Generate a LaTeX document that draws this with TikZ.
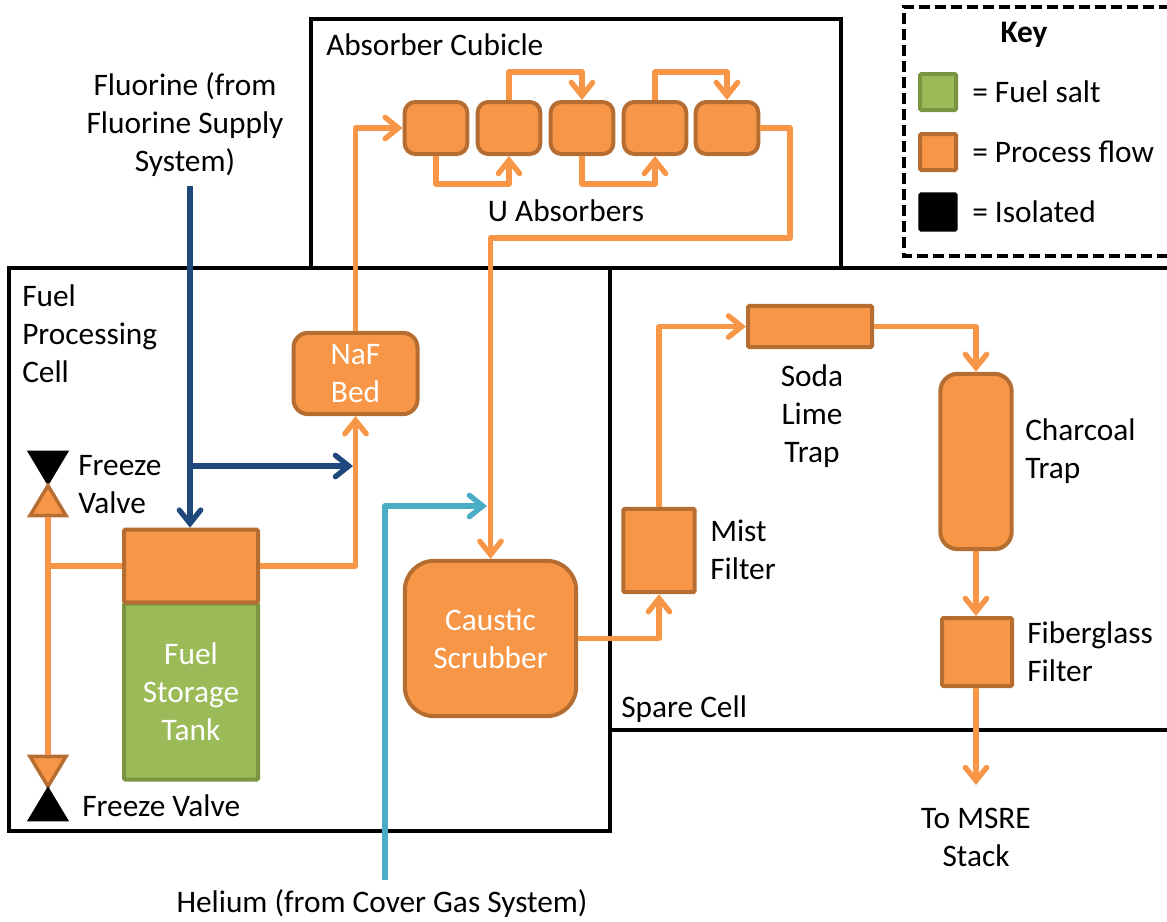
\documentclass[tikz,border=0pt]{standalone}
\usepackage{fontspec}
\setmainfont{Carlito}
\usetikzlibrary{arrows.meta,shapes.geometric}
\definecolor{procfill}{RGB}{247,150,70}
\definecolor{procedge}{RGB}{182,109,49}
\definecolor{saltfill}{RGB}{155,187,89}
\definecolor{saltedge}{RGB}{122,148,66}
\definecolor{fluorcol}{RGB}{31,73,125}
\definecolor{heliumcol}{RGB}{75,172,198}
\tikzset{
  room/.style={draw=black,line width=3pt,fill=none,inner sep=0pt},
  proc/.style={draw=procedge,fill=procfill,line width=3pt,inner sep=0pt,
               rounded corners=8pt,text=white,align=center},
  salt/.style={draw=saltedge,fill=saltfill,line width=3pt,inner sep=0pt,
               text=white,align=center},
  valveup/.style={isosceles triangle,isosceles triangle stretches,shape border rotate=90,
               inner sep=0pt,minimum width=27pt,minimum height=22.5pt,line width=2.6pt},
  valvedown/.style={valveup,shape border rotate=-90},
  shutfill/.style={draw=black,fill=black},
  openfill/.style={draw=procedge,fill=procfill},
  flow/.style={-{Straight Barb[length=10pt,width=16pt,line cap=round]},draw=procfill,
               line width=4pt,line join=round},
  flowline/.style={draw=procfill,line width=4pt,line join=round},
  fluor/.style={flow,draw=fluorcol},
  helium/.style={flow,draw=heliumcol},
  txt/.style={inner sep=0pt,align=center},
}

\begin{document}
\begin{tikzpicture}[x=.75pt,y=-.75pt,font=\fontsize{23.5}{28.5}\selectfont]
  \useasboundingbox (0,0) rectangle (1167,921);
  % rooms
  \draw[room] (311,268) |- (841,19) -- (841,268);
  \draw[room] (9,268) rectangle (610,831);
  \draw[room] (1170,268) -| (610,730) -- (1170,730);
  \draw[draw=black,line width=2.6pt,dash pattern=on 8pt off 4pt] (1170,7) -| (904,256) -- (1170,256);
  % key
  \node[txt,font=\fontsize{23.5}{28.5}\selectfont\bfseries] (keyhead) at (1024,35) {Key};
  \node[salt,minimum size=27pt,rounded corners=1pt] (keysalt) at (938,92) {};
  \node[proc,text=black,minimum size=27pt,rounded corners=1pt] (keyproc) at (938,152) {};
  \node[draw=black,fill=black,line width=2.6pt,minimum size=27pt,rounded corners=1pt,inner sep=0pt] (keyiso) at (938,212) {};
  \node[txt,anchor=west] (keysalttxt) at (972,92) {= Fuel salt};
  \node[txt,anchor=west] (keyproctxt) at (972,152) {= Process flow};
  \node[txt,anchor=west] (keyisotxt) at (972,212) {= Isolated};
  % absorbers
  \foreach \n/\x in {a1/436,a2/509,a3/582,a4/655,a5/727}{
    \node[proc,minimum width=47pt,minimum height=39pt] (\n) at (\x,128) {};
  }
  \node[proc,minimum width=93pt,minimum height=61pt,rounded corners=11pt] (naf) at (355.5,373.5) {NaF\\Bed};
  \node[proc,minimum width=128.5pt,minimum height=116.5pt,rounded corners=22pt] (scrub) at (490.5,638.5) {Caustic\\Scrubber};
  \node[proc,rounded corners=1pt,minimum width=53.5pt,minimum height=62.5pt] (mist) at (659,550.5) {};
  \node[proc,rounded corners=1pt,minimum width=93pt,minimum height=31pt] (soda) at (810,326.5) {};
  \node[proc,rounded corners=13pt,minimum width=53.5pt,minimum height=131.5pt] (charcoal) at (976,461.5) {};
  \node[proc,rounded corners=1pt,minimum width=52.5pt,minimum height=51pt] (glass) at (977,652) {};
  \node[salt,rounded corners=1pt,minimum width=100.5pt,minimum height=132pt] (tank) at (191,691.5) {Fuel\\Storage\\Tank};
  \node[proc,rounded corners=1pt,minimum width=100.5pt,minimum height=54.5pt] (tanktop) at (191,566) {};
  % valves
  \node[valvedown,shutfill,anchor=apex] (vtopshut) at (48,487) {};
  \node[valveup,openfill,anchor=apex] (vtopopen) at (48,481) {};
  \node[valvedown,openfill,anchor=apex] (vbotopen) at (48,791) {};
  \node[valveup,shutfill,anchor=apex] (vbotshut) at (48,785) {};
  % free ends
  \coordinate (fin) at (190,186);
  \coordinate (hein) at (385,880);
  \coordinate (stack) at (976,785);
  \coordinate (tee) at (vtopopen.lower side |- tanktop.west);
  % flows
  \draw[flowline] (tanktop.west) -- (tee);
  \draw[flowline] (vtopopen.lower side) -- (vbotopen.lower side);
  \draw[flow] (a1.south) -- (436,184) -| (a2.south);
  \draw[flow] (a3.south) -- (582,184) -| (a4.south);
  \draw[flow] (a2.north) -- (509,72) -| (a3.north);
  \draw[flow] (a4.north) -- (655,72) -| (a5.north);
  \draw[flow] (a5.east) -| (790,238) -| (scrub.north);
  \draw[flow] (naf.north) |- (a1.west);
  \draw[flow] (tanktop.east) -| (naf.south);
  \draw[flow] (scrub.east) -| (mist.south);
  \draw[flow] (mist.north) |- (soda.west);
  \draw[flow] (soda.east) -| (charcoal.north);
  \draw[flow] (charcoal.south) -- (glass.north-|charcoal.south);
  \draw[flow] (glass.south-|stack) -- (stack);
  \draw[fluor] (fin) -- (tanktop.north-|fin);
  \coordinate (ftee) at (190,466);
  \coordinate (fend) at (353,466);
  \draw[fluor] (ftee) -- (fend);
  \coordinate (hend) at (487,506);
  \draw[helium] (hein) |- (hend);
  % labels
  \node[txt] (lblfluor) at (185,125) {Fluorine (from\\Fluorine Supply\\System)};
  \node[txt,anchor=west] (lblcub) at (326,45) {Absorber Cubicle};
  \node[txt] (lblabs) at (566,211) {U Absorbers};
  \node[txt,align=left,anchor=west] (lblfuel) at (22,334) {Fuel\\Processing\\Cell};
  \node[txt,align=left,anchor=west] (lblv1) at (78,485) {Freeze\\Valve};
  \node[txt,anchor=west] (lblv2) at (82,806) {Freeze Valve};
  \node[txt] (lblhe) at (382,904) {Helium (from Cover Gas System)};
  \node[txt,anchor=west] (lblspare) at (621,709) {Spare Cell};
  \node[txt,align=left,anchor=west] (lblmist) at (710,550) {Mist\\Filter};
  \node[txt] (lblsoda) at (812,416) {Soda\\Lime\\Trap};
  \node[txt,align=left,anchor=west] (lblchar) at (1025,451) {Charcoal\\Trap};
  \node[txt,align=left,anchor=west] (lblglass) at (1027,652) {Fiberglass\\Filter};
  \node[txt] (lblmsre) at (976,837) {To MSRE\\Stack};
\end{tikzpicture}
\end{document}
